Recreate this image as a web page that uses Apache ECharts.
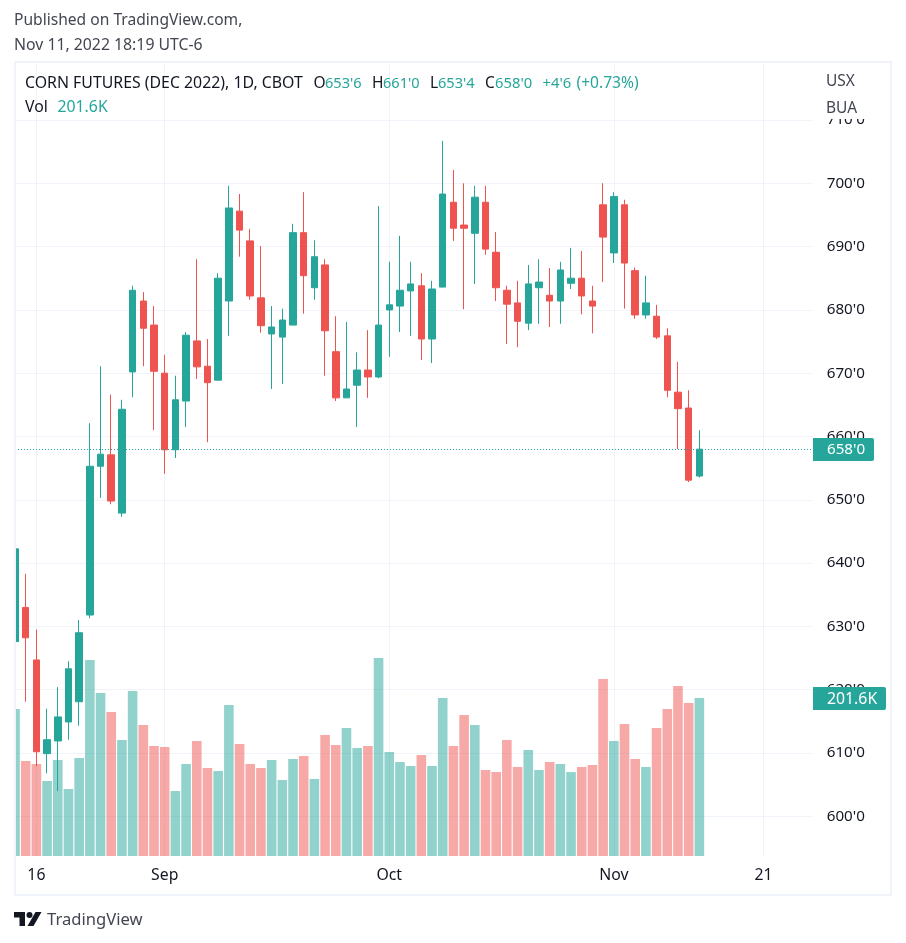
<!DOCTYPE html>
<html><head><meta charset="utf-8">
<style>html,body{margin:0;padding:0;background:#fff}#c{width:906px;height:943px}</style>
<script src="https://cdn.jsdelivr.net/npm/echarts@6/dist/echarts.min.js"></script>
</head><body><div id="c"></div>
<script>
const opens  = [627.6,633,624.7,609.9,611.9,614.9,618.1,631.8,655.3,657.1,647.9,670.2,681.4,677.6,670,657.9,665.6,675.1,671.1,668.9,681.4,695.6,690.9,681.9,676.2,675.7,677.6,692.2,683.5,687.1,673.4,666.1,668.1,670.5,669.4,680,680.6,683,683.8,675.4,683.6,697,693.4,692.1,697,689.1,683.1,681.1,677.9,683.5,682.3,681.4,684.2,685,681.4,696.6,689,696.6,686.2,679.2,679,675.9,667,664.5,653.75];
const closes = [642.25,628.2,610.2,612.1,615.7,623.3,629,655.3,657.2,649.8,664.3,683.1,677.1,670.3,657.9,665.8,676,671,668.5,685,696.1,692.6,682.2,677.5,677.3,678.4,692.2,685.4,688.4,676.7,666.1,667.5,670.5,669.4,677.6,680.8,683.1,684.1,675.4,683.3,698.3,692.9,692.9,697.8,689.6,683.5,680.9,678.2,684.1,684.4,681.4,686.3,685,682.2,680.6,691.5,697.9,687.4,679.2,681.1,675.7,667.3,664.4,653.1,658];
const lows   = [616.4,618.1,607.9,606.8,604,612.1,614.3,631.3,650.3,649.3,647.3,666.2,671.1,661,654.1,656.6,661.5,669.1,659.1,668.9,675.9,688.4,681.6,676.4,667.5,668.3,677.6,679.4,681.6,669.6,665.6,666.1,661.5,666.1,669.2,672.6,676.5,675.9,672.1,671.6,683.6,690.9,680.1,684.1,688.7,681.4,674.6,674.1,676.8,677.8,677.3,677.8,683.3,679.3,676.3,684.4,687.4,680.2,678.6,678.6,675.4,666.2,658,652.8,653.5];
const highs  = [642.9,638.3,629.5,617,620.4,624.5,631,662.1,671.1,666.6,665.8,683.8,682.8,680.6,672.9,669.6,676.5,688,675.4,685.8,699.6,698.3,692.8,690.1,680.6,680.2,693.6,698.6,691,688,679,678.1,673.3,676.8,696.4,687.6,691.7,687.6,685.8,684.6,706.7,702.1,700,699.6,699.6,692.3,683.8,684.6,687.1,688,686.6,687.6,689.8,689.3,683.8,700,698.6,697.4,686.7,685.4,680.8,677.1,671.8,667.3,661];
const volumes = [187.5,121.2,117.3,95.7,122.4,85.5,125,250,207.9,183.7,148,210.5,167.1,140.3,139,82.9,117.3,146.7,112.2,108.4,192.6,142.9,117.3,112.2,122.4,96.9,123.7,127.6,98.2,154.3,141.6,163.3,137.8,140.3,252.6,132.7,119.9,114.8,128.8,114.8,201.5,140.3,179.8,167.1,109.7,107.1,148,113.5,135.2,109.7,119.9,117.3,107.1,113.5,116.1,225.8,146.7,168.4,123.7,113.5,163.3,187.5,216.8,195.2,201.6];
const xTickIndex  = [2,14,35,56,70];
const xTickLabels = ['16','Sep','Oct','Nov','21'];
const priceTicks  = [600,610,620,630,640,650,660,670,680,690,700,710];
const lastPrice = 658;
const lastPriceLabel = "658'0";
const lastVolumeLabel = '201.6K';
const UP='#26a69a', DOWN='#ef5350', INK='#131722', SUB='#434651';
const FONT='"Noto Sans", sans-serif';

const candleData = opens.map((o,i)=>[i,o,closes[i],lows[i],highs[i]]);
const volumeData = volumes.map((v,i)=>({value:[i,v],itemStyle:{color:closes[i]>=opens[i]?'rgba(38,166,154,0.5)':'rgba(239,83,80,0.5)'}}));

function txt(x,y,s,fill,size,extra){return Object.assign({type:'text',x,y,z:30,style:{text:s,fill,font:(size||14)+'px '+FONT,textVerticalAlign:'middle',textBaseline:'middle'}},extra||{});}
const headerBits=[
 [25,"CORN FUTURES (DEC 2022), 1D, CBOT",INK,15.85],[313.5,'O',INK,15.5],[325,"653'6",UP,14.6],[372,'H',INK,15.5],[383,"661'0",UP,14.6],
 [430,'L',INK,15.5],[438,"653'4",UP,14.6],[485,'C',INK,15.5],[495,"658'0",UP,14.8],[542.5,"+4'6",UP,14.8],[576.5,'(+0.73%)',UP,15.6]];

const chart=echarts.init(document.getElementById('c'),null,{renderer:'canvas'});
chart.setOption({
 animation:false,backgroundColor:'#fff',
 grid:{left:15,right:906-812.7,top:63,bottom:943-856,containLabel:false},
 xAxis:{type:'value',min:0,max:74.6,
  axisLine:{show:false},axisTick:{show:false,customValues:xTickIndex},
  splitLine:{show:true,lineStyle:{color:'#f0f3fa',width:1}},
  axisLabel:{customValues:xTickIndex,margin:11,color:INK,fontSize:15.8,fontFamily:FONT,
   formatter:v=>xTickLabels[xTickIndex.indexOf(v)]||''}},
 yAxis:[
  {type:'value',position:'right',min:593.73,max:719,
   axisLine:{show:false},axisTick:{show:false,customValues:priceTicks},
   splitLine:{show:true,lineStyle:{color:'#f0f3fa',width:1}},
   axisLabel:{customValues:priceTicks,margin:14,color:INK,fontSize:15.2,fontFamily:FONT,formatter:v=>v+"'0"}},
  {type:'value',position:'left',min:0,max:1011.5,show:false,splitLine:{show:false}}
 ],
 series:[
  {type:'bar',name:'Vol',yAxisIndex:1,data:volumeData,encode:{x:0,y:1},barWidth:9.6,clip:true,z:2,silent:true},
  {type:'candlestick',name:'CORN',data:candleData,encode:{x:0,y:[1,2,3,4]},barWidth:7,clip:true,z:3,silent:true,
   itemStyle:{color:UP,color0:DOWN,borderColor:UP,borderColor0:DOWN,borderWidth:1},
   markLine:{silent:true,symbol:'none',animation:false,label:{show:false},
    lineStyle:{color:UP,type:[1,2],width:1},data:[{yAxis:lastPrice}]}}
 ],
 graphic:{elements:[
  {type:'rect',z:20,shape:{x:813,y:63,width:77,height:56},style:{fill:'#fff'}},
  {type:'rect',z:20,shape:{x:0,y:60,width:15,height:800},style:{fill:'#fff'}},
  {type:'rect',z:21,shape:{x:15,y:62,width:876,height:833},style:{fill:'none',stroke:'#f0f3fa',lineWidth:2}},
  txt(14,21,'Published on TradingView.com,',SUB,15.6),
  txt(14,45,'Nov 11, 2022 18:19 UTC-6',SUB,15.8),
  ...headerBits.map(b=>txt(b[0],83.5,b[1],b[2],b[3])),
  txt(25,107.5,'Vol',INK,15.8),txt(57.5,107.5,lastVolumeLabel,UP,15.8),
  txt(826,81.5,'USX',SUB,15.5),txt(826,108.5,'BUA',SUB,15.5),
  {type:'rect',z:25,shape:{x:813,y:438,width:61,height:23,r:[0,2,2,0]},style:{fill:UP}},
  txt(827,450,lastPriceLabel,'#fff',15.2,{z:26}),
  {type:'rect',z:25,shape:{x:813,y:687,width:73,height:23,r:[0,2,2,0]},style:{fill:UP}},
  txt(827,699,lastVolumeLabel,'#fff',15.8,{z:26}),
  {type:'polygon',z:30,shape:{points:[[14,912],[25,912],[25,926],[19.5,926],[19.5,917.5],[14,917.5]]},style:{fill:INK}},
  {type:'circle',z:30,shape:{cx:29.5,cy:915,r:3},style:{fill:INK}},
  {type:'polygon',z:30,shape:{points:[[35.5,912],[41.5,912],[33.5,926],[27.5,926]]},style:{fill:INK}},
  txt(47,920,'TradingView',SUB,16.6)
 ]}
});
</script></body></html>
